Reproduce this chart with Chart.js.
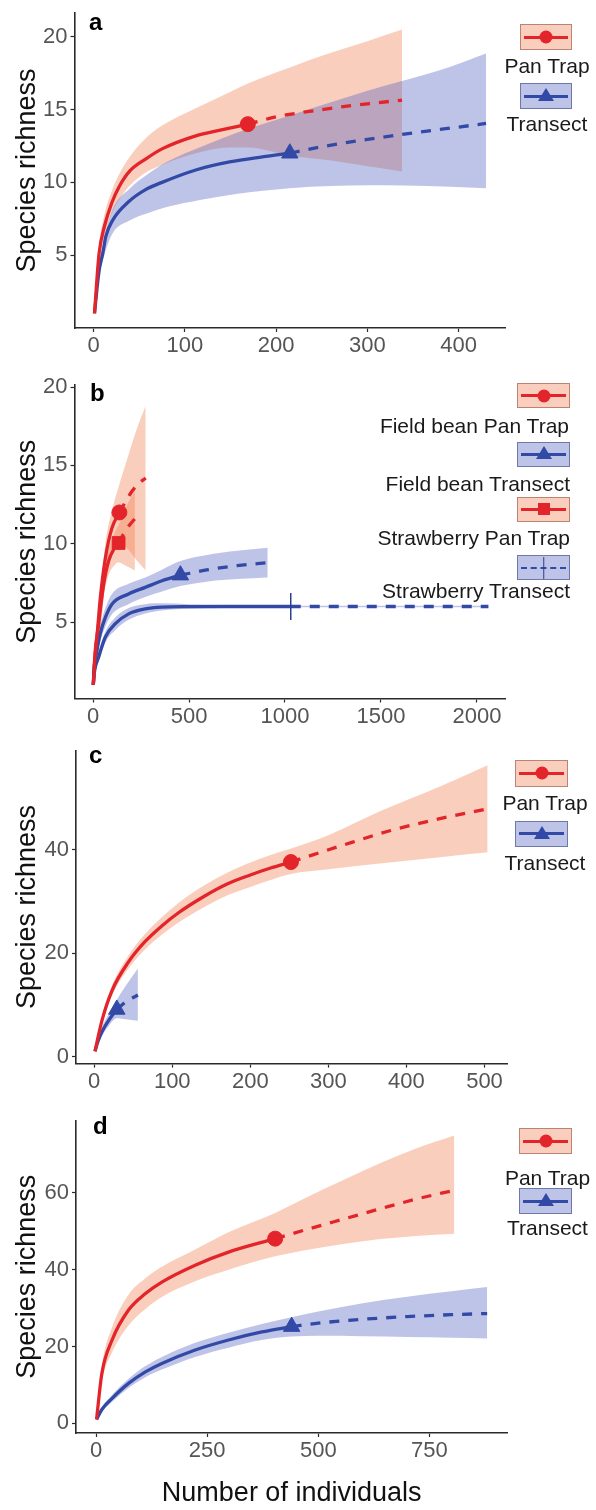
<!DOCTYPE html>
<html>
<head>
<meta charset="utf-8">
<script src="https://cdn.jsdelivr.net/npm/chart.js@4.4.1/dist/chart.umd.min.js"></script>
<style>
html,body{margin:0;padding:0;background:#fff;}
body{position:relative;width:596px;height:1510px;overflow:hidden;font-family:"Liberation Sans",Arial,Helvetica,sans-serif;}
canvas{position:absolute;left:0;}
.tag{position:absolute;font-size:24px;line-height:24px;font-weight:bold;color:#000;}
.ltxt{position:absolute;font-size:21px;line-height:21px;color:#1a1a1a;white-space:nowrap;}
.key{position:absolute;box-sizing:border-box;}
.key .ln{position:absolute;left:3px;right:3px;top:50%;height:3px;margin-top:-1.5px;}
.key .mk{position:absolute;left:50%;top:50%;}
</style>
</head>
<body>
<canvas id="ca" width="596" height="370" style="top:0px"></canvas>
<canvas id="cb" width="596" height="370" style="top:370px"></canvas>
<canvas id="cc" width="596" height="370" style="top:740px"></canvas>
<canvas id="cd" width="596" height="400" style="top:1110px"></canvas>
<div id="overlay"></div>
<script>
// ---------------- Panel a ----------------
const aXTicks = [0, 100, 200, 300, 400];
const aYTicks = [5, 10, 15, 20];
const aPanObsX = [1, 6, 12, 20, 28, 40, 57, 75, 112, 140, 169];
const aPanObsY = [1, 5.1, 7.0, 8.6, 9.7, 10.8, 11.6, 12.3, 13.2, 13.6, 14.0];
const aPanExtX = [169, 200, 250, 300, 338];
const aPanExtY = [14.0, 14.5, 15.0, 15.4, 15.65];
const aPanBandX = [1, 6, 12, 20, 30, 40, 55, 75, 112, 149, 169, 215, 260, 300, 338];
const aPanBandHi = [1, 5.6, 7.8, 9.4, 10.8, 11.8, 12.9, 13.9, 15.1, 16.2, 16.8, 17.9, 18.9, 19.7, 20.5];
const aPanBandLo = [1, 4.6, 6.3, 7.9, 9.0, 9.8, 10.6, 11.2, 12.0, 12.4, 12.4, 11.85, 11.5, 11.1, 10.75];
const aTraObsX = [1, 6, 10, 13.5, 21, 39, 57, 75, 112, 149, 185, 215];
const aTraObsY = [1, 3.9, 5.1, 6.3, 7.4, 8.7, 9.5, 10.0, 10.85, 11.4, 11.75, 12.0];
const aTraExtX = [215, 250, 300, 350, 400, 430];
const aTraExtY = [12.0, 12.45, 12.95, 13.4, 13.8, 14.05];
const aTraBandX = [1, 6, 10, 20, 40, 60, 80, 118, 156, 215, 260, 300, 340, 391, 430];
const aTraBandHi = [1, 4.3, 5.6, 8.0, 9.6, 10.6, 11.4, 12.45, 13.4, 14.6, 15.5, 16.3, 17.0, 17.95, 18.86];
const aTraBandLo = [1, 3.5, 4.6, 6.4, 7.4, 7.9, 8.3, 8.8, 9.2, 9.6, 9.75, 9.8, 9.78, 9.7, 9.6];

// ---------------- Panel b ----------------
const bXTicks = [0, 500, 1000, 1500, 2000];
const bYTicks = [5, 10, 15, 20];
const bFbPanObsX = [1, 10, 20, 38, 64, 98, 137];
const bFbPanObsY = [1, 2.8, 4.05, 6.6, 9.1, 11.0, 12.0];
const bFbPanExtX = [137, 170, 200, 230, 274];
const bFbPanExtY = [12.0, 12.7, 13.3, 13.75, 14.2];
const bFbPanBandX = [1, 30, 64, 100, 137, 185, 230, 274];
const bFbPanBandHi = [1, 5.5, 10.0, 12.2, 13.8, 15.7, 17.4, 18.8];
const bFbPanBandLo = [1, 3.2, 7.5, 9.3, 10.2, 9.6, 8.9, 8.3];
const bFbTraObsX = [1, 5, 20, 38, 64, 98, 185, 272, 359, 455];
const bFbTraObsY = [1, 2.0, 3.2, 4.3, 5.3, 6.15, 6.8, 7.22, 7.64, 8.0];
const bFbTraExtX = [455, 600, 750, 910];
const bFbTraExtY = [8.0, 8.35, 8.6, 8.8];
const bFbTraBandX = [1, 5, 20, 38, 64, 98, 185, 272, 359, 455, 600, 750, 910];
const bFbTraBandHi = [1, 2.2, 3.6, 4.8, 5.9, 6.8, 7.45, 7.85, 8.35, 8.9, 9.3, 9.55, 9.75];
const bFbTraBandLo = [1, 1.8, 2.8, 3.8, 4.7, 5.5, 6.15, 6.6, 6.95, 7.3, 7.6, 7.75, 7.85];
const bStPanObsX = [1, 10, 29, 55, 81, 110, 133];
const bStPanObsY = [1, 3.0, 4.9, 7.4, 8.9, 9.7, 10.05];
const bStPanExtX = [133, 160, 190, 218];
const bStPanExtY = [10.05, 10.65, 11.2, 11.6];
const bStPanBandX = [1, 30, 55, 81, 116, 133, 170, 218];
const bStPanBandHi = [1, 5.6, 8.2, 9.7, 10.8, 11.2, 12.3, 13.4];
const bStPanBandLo = [1, 4.2, 6.7, 8.0, 8.7, 8.8, 8.6, 8.3];
const bStTraObsX = [1, 8, 29, 64, 116, 185, 272, 359, 500, 700, 1030];
const bStTraObsY = [1, 1.9, 2.78, 4.05, 4.9, 5.53, 5.85, 5.96, 5.99, 6.0, 6.0];
const bStTraExtX = [1030, 1500, 2060];
const bStTraExtY = [6.0, 6.0, 6.0];
const bStTraBandX = [1, 8, 29, 64, 116, 185, 272, 359, 500, 700, 1030, 1500, 2060];
const bStTraBandHi = [1, 2.2, 3.1, 4.4, 5.3, 5.9, 6.15, 6.2, 6.15, 6.1, 6.05, 6.05, 6.05];
const bStTraBandLo = [1, 1.7, 2.45, 3.7, 4.5, 5.15, 5.55, 5.75, 5.85, 5.9, 5.95, 5.95, 5.95];

// ---------------- Panel c ----------------
const cXTicks = [0, 100, 200, 300, 400, 500];
const cYTicks = [0, 20, 40];
const cPanObsX = [1, 10, 23, 44, 65, 87, 108, 140, 171, 200, 225, 252];
const cPanObsY = [1, 7.0, 12.8, 18.3, 22.2, 25.3, 27.8, 30.9, 33.4, 35.1, 36.4, 37.6];
const cPanExtX = [252, 280, 330, 380, 440, 504];
const cPanExtY = [37.6, 39.0, 41.4, 43.7, 45.9, 47.9];
const cPanBandX = [1, 10, 23, 44, 65, 87, 108, 140, 171, 200, 225, 252, 300, 366, 440, 504];
const cPanBandHi = [1, 7.7, 13.8, 19.6, 23.7, 27.0, 29.7, 33.0, 35.6, 37.5, 38.9, 40.2, 42.8, 47.4, 52.0, 56.3];
const cPanBandLo = [1, 6.3, 11.8, 17.0, 20.7, 23.6, 25.9, 28.8, 31.2, 32.8, 34.1, 35.3, 36.2, 37.3, 38.5, 39.5];
const cTraObsX = [1, 5, 10, 20, 29];
const cTraObsY = [1, 3.0, 4.8, 7.3, 9.1];
const cTraExtX = [29, 40, 56];
const cTraExtY = [9.1, 10.5, 11.9];
const cTraBandX = [1, 10, 20, 29, 40, 56];
const cTraBandHi = [1, 5.6, 8.6, 11.0, 13.6, 17.0];
const cTraBandLo = [1, 4.0, 6.2, 7.4, 7.2, 6.9];

// ---------------- Panel d ----------------
const dXTicks = [0, 250, 500, 750];
const dYTicks = [0, 20, 40, 60];
const dPanObsX = [1, 13, 36, 73, 111, 148, 223, 298, 403];
const dPanObsY = [1, 13.0, 21.7, 29.5, 33.8, 36.8, 41.2, 44.6, 48.1];
const dPanExtX = [403, 480, 560, 640, 720, 806];
const dPanExtY = [48.1, 50.7, 53.3, 55.9, 58.4, 60.7];
const dPanBandX = [1, 13, 36, 73, 111, 148, 223, 298, 403, 480, 560, 640, 720, 806];
const dPanBandHi = [1, 15, 25, 33.5, 37.8, 40.8, 45.3, 49.8, 54.8, 59.2, 63.6, 67.8, 71.6, 75.0];
const dPanBandLo = [1, 11, 18.5, 25.5, 29.8, 32.9, 37.0, 40.0, 43.5, 45.3, 46.8, 48.0, 48.8, 49.4];
const dTraObsX = [1, 13, 36, 73, 111, 148, 223, 298, 373, 440];
const dTraObsY = [1, 3.6, 6.5, 10.4, 13.4, 15.6, 19.1, 21.7, 23.8, 25.2];
const dTraExtX = [440, 500, 600, 700, 800, 880];
const dTraExtY = [25.2, 26.1, 27.1, 27.8, 28.3, 28.6];
const dTraBandX = [1, 13, 36, 73, 111, 148, 223, 298, 373, 440, 500, 600, 700, 800, 880];
const dTraBandHi = [1, 4.2, 7.4, 11.6, 14.9, 17.3, 21.0, 23.6, 25.9, 27.6, 29.1, 31.3, 33.0, 34.4, 35.5];
const dTraBandLo = [1, 3.0, 5.6, 9.2, 12.0, 14.0, 17.3, 19.7, 21.7, 22.6, 22.8, 22.7, 22.5, 22.3, 22.1];

// ---------------- styling ----------------
const FONT = '"Liberation Sans", Arial, Helvetica, sans-serif';
const RED = '#e3242b', BLUE = '#3349a6';
const RED_FILL = 'rgba(243,125,80,0.38)', BLUE_FILL = 'rgba(85,100,195,0.38)';
const AX = '#2a2a2a', TICK = '#555555';

function pts(xs, ys) { return xs.map((x, i) => ({x: x, y: ys[i]})); }
function fixTicks(vals) { return function (s) { s.ticks = vals.map(v => ({value: v})); }; }

function panel(id, P) {
  const datasets = [];
  P.bands.forEach((b, k) => {
    const i = datasets.length;
    datasets.push({data: pts(b.x, b.hi), fill: i + 1, backgroundColor: b.color, borderColor: 'rgba(0,0,0,0)',
      borderWidth: 0, pointRadius: 0, cubicInterpolationMode: 'monotone', order: 30 - k});
    datasets.push({data: pts(b.x, b.lo), fill: false, borderColor: 'rgba(0,0,0,0)', borderWidth: 0,
      pointRadius: 0, cubicInterpolationMode: 'monotone', order: 30 - k});
  });
  P.lines.forEach(l => {
    datasets.push({data: pts(l.x, l.y), fill: false, borderColor: l.color, borderWidth: 3.3,
      borderDash: l.dash ? [10, 9] : [], pointRadius: 0, cubicInterpolationMode: 'monotone', order: 10,
      borderCapStyle: 'butt'});
  });
  P.marks.forEach(m => {
    datasets.push({data: [{x: m.x, y: m.y}], showLine: false, fill: false, pointStyle: m.style,
      pointRadius: m.r, pointRotation: m.rot || 0, pointBackgroundColor: m.color, pointBorderColor: m.color,
      pointBorderWidth: m.bw || 1, order: 1});
  });
  const tickFont = {family: FONT, size: 22};
  const titleFont = {family: FONT, size: 27};
  new Chart(document.getElementById(id), {
    type: 'line',
    data: {datasets: datasets},
    options: {
      responsive: false, animation: false, devicePixelRatio: 1, events: [],
      layout: {padding: {top: P.padTop, right: P.padRight, left: 0, bottom: 0}},
      plugins: {legend: {display: false}, tooltip: {enabled: false}},
      scales: {
        x: {
          type: 'linear', min: P.xmin, max: P.xmax,
          afterBuildTicks: fixTicks(P.xticks),
          afterFit: s => { s.height = P.xh; s.paddingLeft = 0; s.paddingRight = 0; },
          border: {display: true, color: AX, width: 1.6},
          grid: {display: true, drawOnChartArea: false, drawTicks: true, tickLength: 4, tickColor: AX, tickWidth: 1.2},
          ticks: {autoSkip: false, maxRotation: 0, minRotation: 0, padding: 1, color: TICK, font: tickFont, callback: v => String(v)},
          title: P.xTitle ? {display: true, text: P.xTitle, color: '#111', font: titleFont, padding: {top: 0, bottom: 0}} : {display: false}
        },
        y: {
          type: 'linear', min: P.ymin, max: P.ymax,
          afterBuildTicks: fixTicks(P.yticks),
          afterFit: s => { s.width = P.left; s.paddingTop = 0; s.paddingBottom = 0; },
          border: {display: true, color: AX, width: 1.6},
          grid: {display: true, drawOnChartArea: false, drawTicks: true, tickLength: 4, tickColor: AX, tickWidth: 1.2},
          ticks: {autoSkip: false, padding: 3, color: TICK, font: tickFont, callback: v => String(v)},
          title: {display: true, text: 'Species richness', color: '#111', font: titleFont, padding: {top: 11, bottom: 0}}
        }
      }
    }
  });
}

const panTrapMark = (x, y) => ({x: x, y: y, style: 'circle', r: 7.5, color: RED});
const transectMark = (x, y) => ({x: x, y: y, style: 'triangle', r: 9.5, color: BLUE});

panel('ca', {
  padTop: 13, padRight: 90.6, left: 74.5, xh: 42,
  xmin: -20.9, xmax: 451.2, ymin: -0.01, ymax: 21.64, xticks: aXTicks, yticks: aYTicks,
  bands: [{x: aPanBandX, hi: aPanBandHi, lo: aPanBandLo, color: RED_FILL},
          {x: aTraBandX, hi: aTraBandHi, lo: aTraBandLo, color: BLUE_FILL}],
  lines: [{x: aPanObsX, y: aPanObsY, color: RED}, {x: aPanExtX, y: aPanExtY, color: RED, dash: true},
          {x: aTraObsX, y: aTraObsY, color: BLUE}, {x: aTraExtX, y: aTraExtY, color: BLUE, dash: true}],
  marks: [panTrapMark(169, 14.0), transectMark(215, 12.0)]
});

panel('cb', {
  padTop: 13, padRight: 90.6, left: 74.5, xh: 41.5,
  xmin: -96.9, xmax: 2148.5, ymin: 0.13, ymax: 20.13, xticks: bXTicks, yticks: bYTicks,
  bands: [{x: bFbPanBandX, hi: bFbPanBandHi, lo: bFbPanBandLo, color: RED_FILL},
          {x: bFbTraBandX, hi: bFbTraBandHi, lo: bFbTraBandLo, color: BLUE_FILL},
          {x: bStPanBandX, hi: bStPanBandHi, lo: bStPanBandLo, color: RED_FILL},
          {x: bStTraBandX, hi: bStTraBandHi, lo: bStTraBandLo, color: BLUE_FILL}],
  lines: [{x: bFbPanObsX, y: bFbPanObsY, color: RED}, {x: bFbPanExtX, y: bFbPanExtY, color: RED, dash: true},
          {x: bFbTraObsX, y: bFbTraObsY, color: BLUE}, {x: bFbTraExtX, y: bFbTraExtY, color: BLUE, dash: true},
          {x: bStPanObsX, y: bStPanObsY, color: RED}, {x: bStPanExtX, y: bStPanExtY, color: RED, dash: true},
          {x: bStTraObsX, y: bStTraObsY, color: BLUE}, {x: bStTraExtX, y: bStTraExtY, color: BLUE, dash: true}],
  marks: [panTrapMark(137, 12.0), transectMark(455, 8.0),
          {x: 133, y: 10.05, style: 'rect', r: 9, color: RED},
          {x: 1030, y: 6.0, style: 'line', r: 13.5, rot: 90, color: '#2d3e8c', bw: 1.5}]
});

panel('cc', {
  padTop: 10, padRight: 88.7, left: 76, xh: 46.4,
  xmin: -23.3, xmax: 529.2, ymin: -1.37, ymax: 59.17, xticks: cXTicks, yticks: cYTicks,
  bands: [{x: cPanBandX, hi: cPanBandHi, lo: cPanBandLo, color: RED_FILL},
          {x: cTraBandX, hi: cTraBandHi, lo: cTraBandLo, color: BLUE_FILL}],
  lines: [{x: cPanObsX, y: cPanObsY, color: RED}, {x: cPanExtX, y: cPanExtY, color: RED, dash: true},
          {x: cTraObsX, y: cTraObsY, color: BLUE}, {x: cTraExtX, y: cTraExtY, color: BLUE, dash: true}],
  marks: [panTrapMark(252, 37.6), transectMark(29, 9.1)]
});

panel('cd', {
  padTop: 10, padRight: 88.7, left: 76, xh: 77, xTitle: 'Number of individuals',
  xmin: -45.2, xmax: 925.3, ymin: -2.52, ymax: 78.88, xticks: dXTicks, yticks: dYTicks,
  bands: [{x: dPanBandX, hi: dPanBandHi, lo: dPanBandLo, color: RED_FILL},
          {x: dTraBandX, hi: dTraBandHi, lo: dTraBandLo, color: BLUE_FILL}],
  lines: [{x: dPanObsX, y: dPanObsY, color: RED}, {x: dPanExtX, y: dPanExtY, color: RED, dash: true},
          {x: dTraObsX, y: dTraObsY, color: BLUE}, {x: dTraExtX, y: dTraExtY, color: BLUE, dash: true}],
  marks: [panTrapMark(403, 48.1), transectMark(440, 25.2)]
});

// ---------------- tags & legends (HTML text) ----------------
const overlay = document.getElementById('overlay');
function el(cls, css, text) {
  const d = document.createElement('div');
  d.className = cls; Object.assign(d.style, css);
  if (text !== undefined) d.textContent = text;
  overlay.appendChild(d); return d;
}
function tag(t, left, top) { el('tag', {left: left + 'px', top: top + 'px'}, t); }
function key(left, top, w, h, isRed, marker) {
  const box = el('key', {left: left + 'px', top: top + 'px', width: w + 'px', height: h + 'px',
    background: isRed ? RED_FILL : BLUE_FILL,
    border: '1.5px solid ' + (isRed ? 'rgba(150,80,70,0.6)' : 'rgba(60,70,130,0.6)')});
  const c = isRed ? RED : BLUE;
  const ln = document.createElement('div'); ln.className = 'ln';
  if (marker === 'vline') { ln.style.background = 'none'; ln.style.borderTop = '2px dashed ' + c; ln.style.height = '0'; ln.style.marginTop = '-1px'; }
  else ln.style.background = c;
  box.appendChild(ln);
  const mk = document.createElement('div'); mk.className = 'mk';
  if (marker === 'circle') Object.assign(mk.style, {width: '13px', height: '13px', borderRadius: '50%', background: c, transform: 'translate(-50%,-50%)'});
  if (marker === 'square') Object.assign(mk.style, {width: '12px', height: '12px', background: c, transform: 'translate(-50%,-50%)'});
  if (marker === 'triangle') Object.assign(mk.style, {width: '0', height: '0', borderLeft: '8px solid transparent', borderRight: '8px solid transparent', borderBottom: '13px solid ' + c, transform: 'translate(-50%,-62%)'});
  if (marker === 'vline') Object.assign(mk.style, {width: '1.5px', height: (h - 3) + 'px', background: '#2d3e8c', transform: 'translate(-50%,-50%)'});
  box.appendChild(mk);
}
function ctext(t, cx, cy) { el('ltxt', {left: cx + 'px', top: cy + 'px', transform: 'translate(-50%,-50%)'}, t); }
function rtext(t, right, cy) { el('ltxt', {right: (596 - right) + 'px', top: cy + 'px', transform: 'translateY(-50%)'}, t); }

tag('a', 89, 9.7); tag('b', 90, 380.7); tag('c', 89, 742.7); tag('d', 93, 1113.7);

key(520, 24.3, 52, 26, true, 'circle'); ctext('Pan Trap', 547, 65);
key(520, 83.3, 52, 26, false, 'triangle'); ctext('Transect', 547, 123);

key(517, 383.3, 53, 25, true, 'circle'); rtext('Field bean Pan Trap', 569, 425);
key(517, 441.7, 53, 25, false, 'triangle'); rtext('Field bean Transect', 570, 483.3);
key(517, 496.7, 53, 25, true, 'square'); rtext('Strawberry Pan Trap', 570, 536.7);
key(517, 555, 53, 25, false, 'vline'); rtext('Strawberry Transect', 570, 590);

key(515, 760, 53, 26.5, true, 'circle'); ctext('Pan Trap', 545, 802);
key(515, 820.5, 53, 26.5, false, 'triangle'); ctext('Transect', 545, 862);

key(519, 1128.3, 53, 26, true, 'circle'); ctext('Pan Trap', 547.5, 1177.3);
key(519, 1188.3, 53, 26, false, 'triangle'); ctext('Transect', 547.5, 1226.7);
</script>
</body>
</html>
